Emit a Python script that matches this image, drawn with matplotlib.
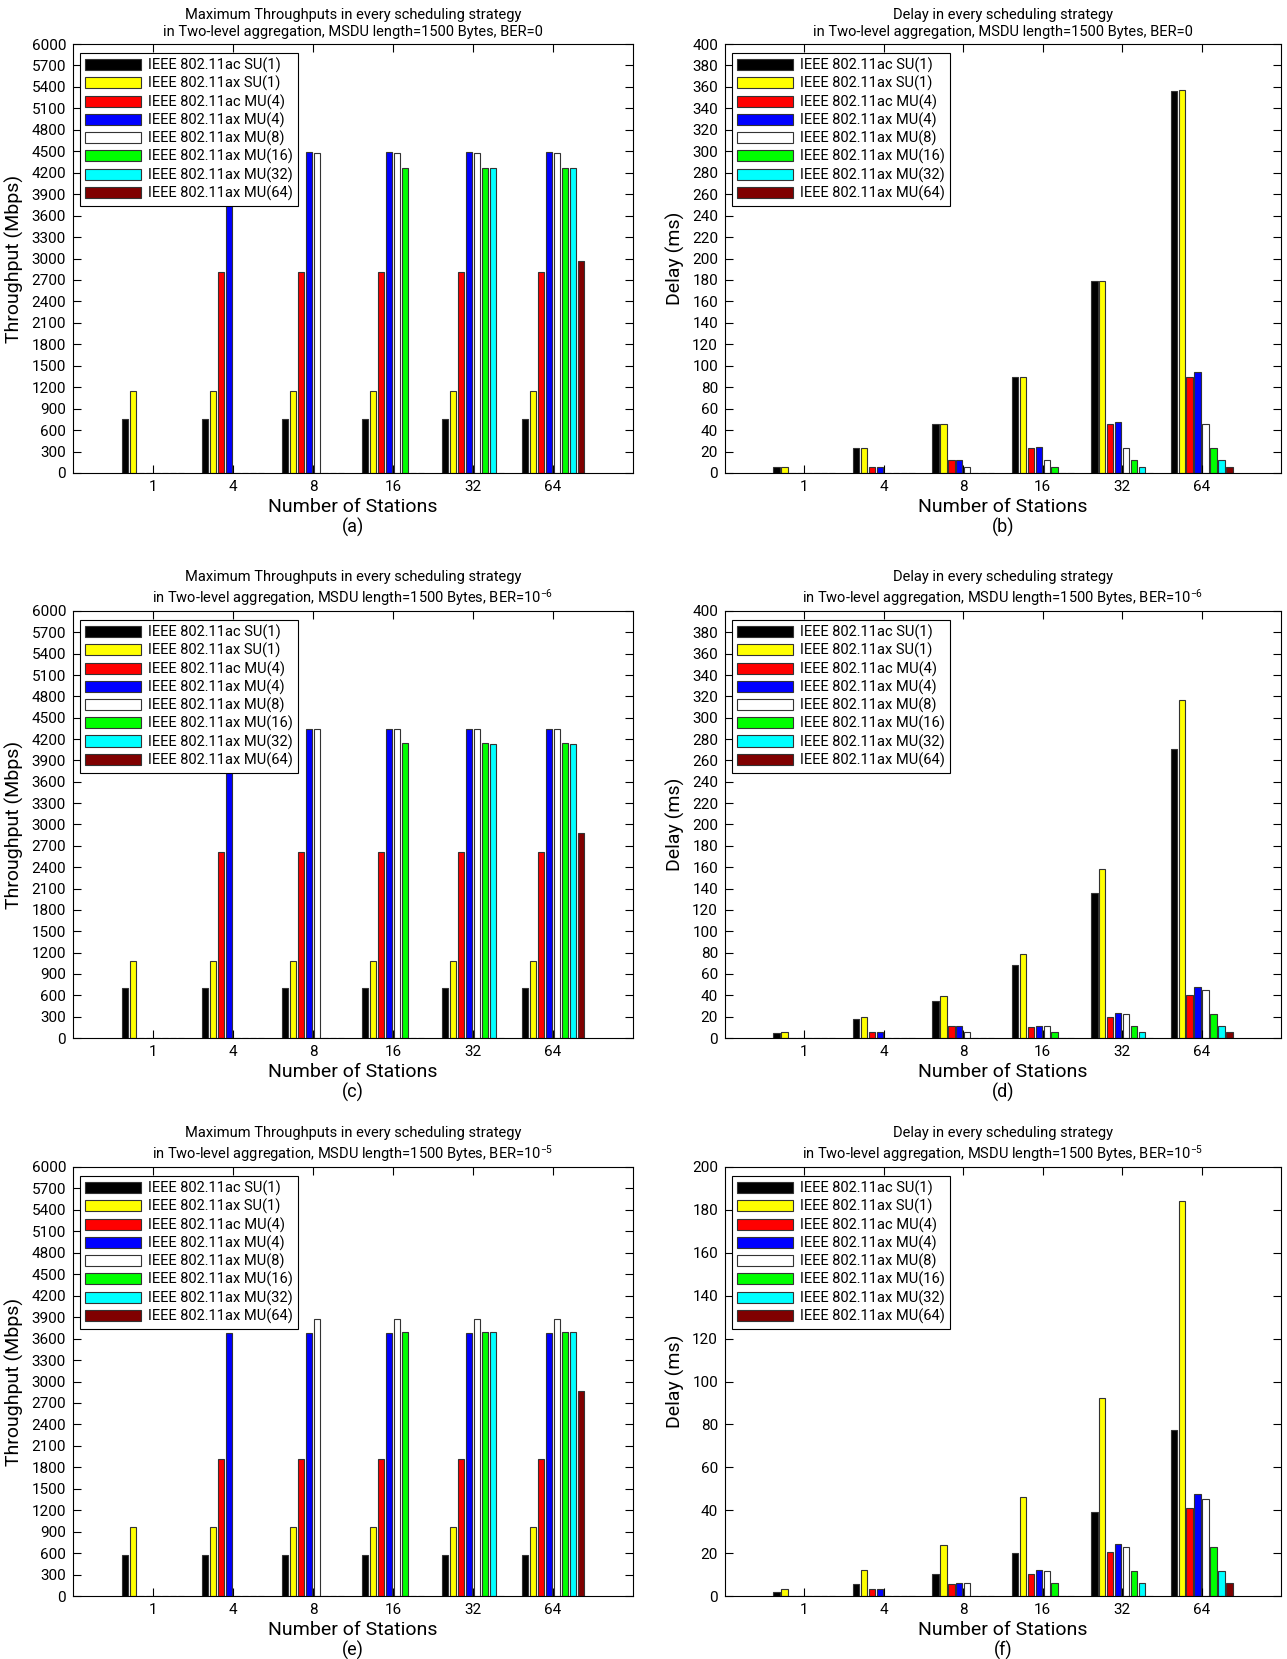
import matplotlib
matplotlib.use('Agg')
import matplotlib.pyplot as plt
import numpy as np

plt.rcParams['font.family'] = ['Roboto', 'DejaVu Sans']
plt.rcParams['mathtext.fontset'] = 'custom'
plt.rcParams['mathtext.rm'] = 'Roboto'
plt.rcParams['mathtext.it'] = 'Roboto'
plt.rcParams['mathtext.default'] = 'regular'

stations = ['1', '4', '8', '16', '32', '64']
labels = ['IEEE 802.11ac SU(1)', 'IEEE 802.11ax SU(1)', 'IEEE 802.11ac MU(4)',
          'IEEE 802.11ax MU(4)', 'IEEE 802.11ax MU(8)', 'IEEE 802.11ax MU(16)',
          'IEEE 802.11ax MU(32)', 'IEEE 802.11ax MU(64)']
colors = ['#000000', '#ffff00', '#ff0000', '#0000ff', '#ffffff', '#00ff00', '#00ffff', '#800000']

# throughput, BER=0 (rows = strategies, cols = stations)
thr_ber0 = [
    [750, 750, 750, 750, 750, 750],
    [1150, 1150, 1150, 1150, 1150, 1150],
    [0, 2815, 2815, 2815, 2815, 2815],
    [0, 4490, 4490, 4490, 4490, 4490],
    [0, 0, 4475, 4475, 4475, 4475],
    [0, 0, 0, 4270, 4270, 4270],
    [0, 0, 0, 0, 4270, 4270],
    [0, 0, 0, 0, 0, 2960],
]
delay_ber0 = [
    [5.8, 23, 45.6, 89.6, 178.6, 355.8],
    [5.8, 23, 45.6, 89.6, 178.6, 356.8],
    [0, 5.8, 12, 23, 45.6, 89.6],
    [0, 5.8, 12, 24, 48, 94.5],
    [0, 0, 5.8, 12, 23, 45.6],
    [0, 0, 0, 5.8, 12, 23],
    [0, 0, 0, 0, 5.8, 12],
    [0, 0, 0, 0, 0, 5.8],
]
# BER=1e-6
thr_ber6 = [
    [700, 700, 700, 700, 700, 700],
    [1075, 1075, 1075, 1075, 1075, 1075],
    [0, 2610, 2610, 2610, 2610, 2610],
    [0, 4340, 4340, 4340, 4340, 4340],
    [0, 0, 4340, 4340, 4340, 4340],
    [0, 0, 0, 4150, 4150, 4150],
    [0, 0, 0, 0, 4130, 4130],
    [0, 0, 0, 0, 0, 2885],
]
delay_ber6 = [
    [4.5, 17.7, 34.5, 68.3, 135.6, 270.5],
    [5.5, 20, 39.3, 78.9, 158.5, 317],
    [0, 5.5, 11.6, 10.3, 20, 40.6],
    [0, 5.5, 11.6, 11.6, 23.5, 47.7],
    [0, 0, 5.5, 11.6, 22.5, 45.4],
    [0, 0, 0, 5.5, 11.6, 22.5],
    [0, 0, 0, 0, 5.5, 11.6],
    [0, 0, 0, 0, 0, 5.5],
]
# BER=1e-5
thr_ber5 = [
    [580, 580, 580, 580, 580, 580],
    [960, 960, 960, 960, 960, 960],
    [0, 1910, 1910, 1910, 1910, 1910],
    [0, 3675, 3675, 3675, 3675, 3675],
    [0, 0, 3880, 3880, 3880, 3880],
    [0, 0, 0, 3690, 3690, 3690],
    [0, 0, 0, 0, 3690, 3690],
    [0, 0, 0, 0, 0, 2870],
]
delay_ber5 = [
    [1.9, 5.6, 10.4, 20, 39.3, 77.6],
    [3.2, 12, 23.6, 46.3, 92.5, 184.3],
    [0, 3.2, 5.6, 10.1, 20.4, 40.9],
    [0, 3.2, 6.2, 12.2, 24.2, 47.4],
    [0, 0, 6.2, 11.5, 22.9, 45],
    [0, 0, 0, 6.2, 11.5, 22.9],
    [0, 0, 0, 0, 5.9, 11.5],
    [0, 0, 0, 0, 0, 6.2],
]

W, H = 1287, 1659
fig = plt.figure(figsize=(W / 100, H / 100), dpi=100)


def box(l, r, t, b):
    return [l / W, 1 - b / H, (r - l) / W, (b - t) / H]


def draw(ax, data, ymax, ystep, ylabel, title, tag):
    x = np.arange(1, len(stations) + 1)
    for i, vals in enumerate(data):
        ax.bar(x + (i - 3.5) * 0.1, vals, width=0.08, color=colors[i],
               edgecolor='#333333', linewidth=0.8, label=labels[i])
    ax.set_xlim(0, 7)
    ax.set_ylim(0, ymax)
    ax.set_xticks(x)
    ax.set_xticklabels(stations)
    ax.set_yticks(np.arange(0, ymax + 1, ystep))
    ax.tick_params(direction='in', top=True, right=True, length=6, width=0.8,
                   labelsize=11, pad=5)
    for s in ax.spines.values():
        s.set_linewidth(0.8)
    ax.set_ylabel(ylabel, fontsize=14, labelpad=5)
    ax.set_xlabel('Number of Stations', fontsize=14, labelpad=3)
    ax.text(0.5, -0.105, tag, transform=ax.transAxes, ha='center', va='top', fontsize=13)
    ax.set_title(title, fontsize=10.5, pad=6, linespacing=1.2)
    leg = ax.legend(loc='upper left', bbox_to_anchor=(0.005, 0.99), fontsize=10.5,
                    handlelength=3.8, handleheight=0.8, labelspacing=0.2,
                    borderpad=0.35, handletextpad=0.5, fancybox=False,
                    edgecolor='black', framealpha=1, borderaxespad=0.3)
    leg.get_frame().set_linewidth(0.8)


rows = [(44, 473), (611, 1038), (1167, 1596)]
cols = [(73, 633), (725, 1281)]
bers = ['BER=0', 'BER=10$^{-6}$', 'BER=10$^{-5}$']
thr = [thr_ber0, thr_ber6, thr_ber5]
dly = [delay_ber0, delay_ber6, delay_ber5]
dmax = [400, 400, 200]
tags = [('(a)', '(b)'), ('(c)', '(d)'), ('(e)', '(f)')]

for r in range(3):
    t, b = rows[r]
    ax1 = fig.add_axes(box(cols[0][0], cols[0][1], t, b))
    draw(ax1, thr[r], 6000, 300, 'Throughput (Mbps)',
         'Maximum Throughputs in every scheduling strategy\n'
         'in Two-level aggregation, MSDU length=1500 Bytes, ' + bers[r], tags[r][0])
    ax2 = fig.add_axes(box(cols[1][0], cols[1][1], t, b))
    draw(ax2, dly[r], dmax[r], 20, 'Delay (ms)',
         'Delay in every scheduling strategy\n'
         'in Two-level aggregation, MSDU length=1500 Bytes, ' + bers[r], tags[r][1])

fig.savefig('out.png', dpi=100)
